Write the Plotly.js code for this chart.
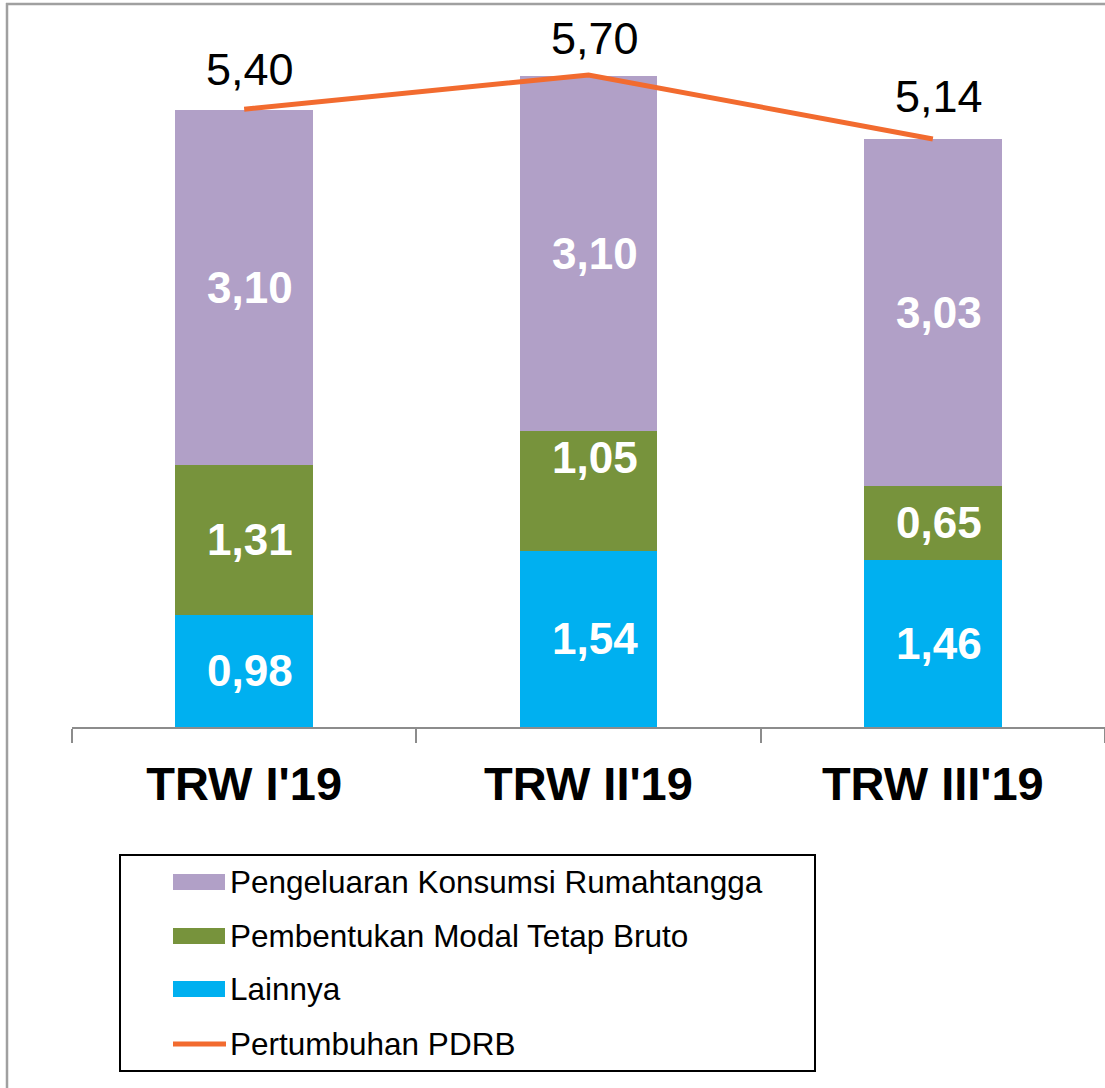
<!DOCTYPE html>
<html>
<head>
<meta charset="utf-8">
<script src="https://cdn.plot.ly/plotly-3.0.1.min.js"></script>
<style>html,body{margin:0;padding:0;background:#fff;}#chart{width:1105px;height:1088px;}</style>
</head>
<body>
<div id="chart"></div>
<script>
// ---- data ----
const categories = ["TRW I'19", "TRW II'19", "TRW III'19"];
const konsumsi = [3.10, 3.10, 3.03];
const pmtb = [1.31, 1.05, 0.65];
const lainnya = [0.98, 1.54, 1.46];
const pdrb = [5.40, 5.70, 5.14];
const seriesNames = ["Pengeluaran Konsumsi Rumahtangga", "Pembentukan Modal Tetap Bruto", "Lainnya", "Pertumbuhan PDRB"];

// ---- styles / layout ----
const colors = {konsumsi: "#B1A0C7", pmtb: "#77933C", lainnya: "#00B0F0", line: "#F26B2F"};
const FONT = "Arial, 'Liberation Sans', sans-serif";
const W = 1105, H = 1088;
const M = {l: 72, r: 0, t: 10, b: 361};
const plotW = W - M.l - M.r, plotH = H - M.t - M.b;
const baseY = H - M.b;
const px2x = p => (p - M.l) / plotW;
const px2y = p => (baseY - p) / plotH;
const fmt = v => v.toFixed(2).replace('.', ',');
const pxPerUnit = 114.4;
const yTop = plotH / pxPerUnit;

// label nudges (pixels) for inner labels: [lainnya, pmtb, konsumsi] per category
const nudge = [[0, 0, 0], [0, 33, 0], [0, 0, 0]];
const topShift = [40, 36, 42];

const traces = [
  {type: 'bar', name: seriesNames[2], x: categories, y: lainnya, marker: {color: colors.lainnya}, hoverinfo: 'skip'},
  {type: 'bar', name: seriesNames[1], x: categories, y: pmtb, marker: {color: colors.pmtb}, hoverinfo: 'skip'},
  {type: 'bar', name: seriesNames[0], x: categories, y: konsumsi, marker: {color: colors.konsumsi}, hoverinfo: 'skip'},
  {type: 'scatter', mode: 'lines', name: seriesNames[3], x: categories, y: pdrb, line: {color: colors.line, width: 5}, hoverinfo: 'skip', cliponaxis: false}
];

const annotations = [];
categories.forEach((c, i) => {
  const stack = [lainnya[i], pmtb[i], konsumsi[i]];
  let cum = 0;
  stack.forEach((v, k) => {
    annotations.push({x: c, y: cum + v / 2, xref: 'x', yref: 'y', text: '<b>' + fmt(v) + '</b>', showarrow: false,
      font: {family: FONT, size: 44, color: '#FFFFFF'}, xshift: 6, yshift: nudge[i][k], yanchor: 'middle'});
    cum += v;
  });
  annotations.push({x: c, y: pdrb[i], xref: 'x', yref: 'y', text: fmt(pdrb[i]), showarrow: false,
    font: {family: FONT, size: 45, color: '#000000'}, xshift: 6, yshift: topShift[i], yanchor: 'middle'});
});

// custom legend
const legendRows = [882, 936, 989, 1044];
const legendColors = [colors.konsumsi, colors.pmtb, colors.lainnya];
const shapes = [
  // outer frame
  {type: 'line', xref: 'paper', yref: 'paper', x0: px2x(7), x1: px2x(7), y0: px2y(3), y1: px2y(H), line: {color: '#A0A0A0', width: 2.5}},
  {type: 'line', xref: 'paper', yref: 'paper', x0: px2x(6), x1: px2x(W), y0: px2y(4), y1: px2y(4), line: {color: '#A0A0A0', width: 2.5}},
  // legend box
  {type: 'rect', xref: 'paper', yref: 'paper', x0: px2x(120), x1: px2x(815), y0: px2y(855), y1: px2y(1071), line: {color: '#000', width: 2}, fillcolor: 'rgba(0,0,0,0)'}
];
legendColors.forEach((col, k) => {
  shapes.push({type: 'rect', xref: 'paper', yref: 'paper', x0: px2x(173), x1: px2x(225), y0: px2y(legendRows[k] - 8), y1: px2y(legendRows[k] + 8), line: {width: 0}, fillcolor: col});
});
shapes.push({type: 'line', xref: 'paper', yref: 'paper', x0: px2x(173), x1: px2x(226), y0: px2y(legendRows[3]), y1: px2y(legendRows[3]), line: {color: colors.line, width: 5}});
seriesNames.forEach((n, k) => {
  annotations.push({xref: 'paper', yref: 'paper', x: px2x(228), y: px2y(legendRows[k]), text: n, showarrow: false, xanchor: 'left', yanchor: 'middle',
    font: {family: FONT, size: 31.5, color: '#000'}});
});

const layout = {
  width: W, height: H,
  margin: M,
  paper_bgcolor: '#fff', plot_bgcolor: '#fff',
  barmode: 'stack', bargap: 0.6,
  showlegend: false,
  font: {family: FONT},
  xaxis: {
    type: 'category', showline: true, linecolor: '#8C8C8C', linewidth: 2,
    ticks: 'outside', tickson: 'boundaries', ticklen: 14, tickcolor: '#8C8C8C', tickwidth: 2,
    ticklabelstandoff: 15,
    tickfont: {family: FONT, size: 47, color: '#000'}, tickprefix: '<b>', ticksuffix: '</b>',
    showgrid: false, zeroline: false, fixedrange: true
  },
  yaxis: {range: [0, yTop], visible: false, showgrid: false, zeroline: false, fixedrange: true},
  shapes: shapes,
  annotations: annotations
};

Plotly.newPlot('chart', traces, layout, {displayModeBar: false, staticPlot: true});
</script>
</body>
</html>
